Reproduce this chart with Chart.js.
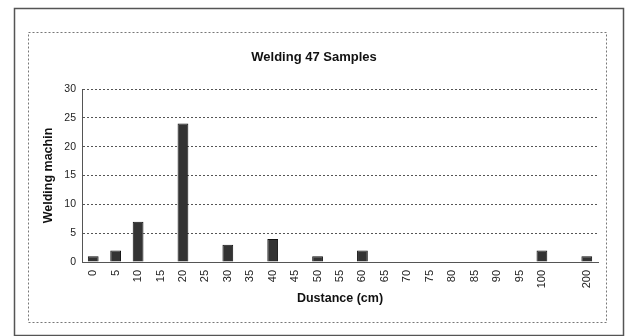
<!DOCTYPE html>
<html>
<head>
<meta charset="utf-8">
<script src="https://cdn.jsdelivr.net/npm/chart.js@4/dist/chart.umd.min.js"></script>
<style>
html,body{margin:0;padding:0;background:#fff;}
#wrap{position:relative;width:628px;height:336px;}
</style>
</head>
<body>
<div id="wrap"><canvas id="c" width="628" height="336"></canvas></div>
<script>
const categories = ['0','5','10','15','20','25','30','35','40','45','50','55','60','65','70','75','80','85','90','95','100','','200'];
const counts = [1,2,7,0,24,0,3,0,4,0,1,0,2,0,0,0,0,0,0,0,2,null,1];
const yTicks = [0,5,10,15,20,25,30];
const chartTitle = 'Welding 47 Samples';
const xTitle = 'Dustance (cm)';
const yTitle = 'Welding machin';

const frames = {
  id: 'frames',
  beforeDraw(chart) {
    const ctx = chart.ctx;
    ctx.save();
    ctx.fillStyle = '#fff';
    ctx.fillRect(0, 0, chart.width, chart.height);
    ctx.strokeStyle = '#555';
    ctx.lineWidth = 1.5;
    ctx.strokeRect(14.5, 8.5, 609, 327);
    ctx.setLineDash([2, 2]);
    ctx.lineWidth = 1;
    ctx.strokeStyle = '#777';
    ctx.strokeRect(28.5, 32.5, 578, 290);
    ctx.restore();
  }
};

Chart.defaults.font.family = '"Liberation Sans", Arial, sans-serif';
Chart.defaults.color = '#222';

new Chart(document.getElementById('c'), {
  type: 'bar',
  data: {
    labels: categories,
    datasets: [{
      data: counts,
      backgroundColor: '#333',
      borderColor: '#111',
      borderWidth: 1,
      barPercentage: 0.48,
      categoryPercentage: 1
    }]
  },
  options: {
    responsive: false,
    animation: false,
    events: [],
    layout: { padding: { left: 30, right: 30, top: 40, bottom: 24 } },
    plugins: {
      legend: { display: false },
      tooltip: { enabled: false },
      title: {
        display: true,
        text: chartTitle,
        font: { size: 13, weight: 'bold' },
        color: '#111',
        padding: { top: 10, bottom: 23.4 }
      }
    },
    scales: {
      x: {
        grid: { display: false, drawTicks: false },
        border: { display: true, color: '#555', dash: [2, 2] },
        ticks: { autoSkip: false, maxRotation: 90, minRotation: 90, padding: 8, font: { size: 11 } },
        title: { display: true, text: xTitle, font: { size: 12.5, weight: 'bold' }, color: '#111', padding: { top: 0, bottom: 6 } },
        afterFit(s) { s.height = 50; }
      },
      y: {
        min: 0, max: 30,
        afterBuildTicks(s) { s.ticks = yTicks.map(v => ({ value: v })); },
        grid: { color: '#555', drawTicks: false },
        border: { display: true, color: '#555', dash: [2, 2] },
        ticks: { padding: 6, font: { size: 10.5 } },
        title: { display: true, text: yTitle, font: { size: 12.5, weight: 'bold' }, color: '#111', padding: { top: 11.5, bottom: 0 } },
        afterFit(s) { s.width = 52; }
      }
    }
  },
  plugins: [frames]
});
</script>
</body>
</html>
